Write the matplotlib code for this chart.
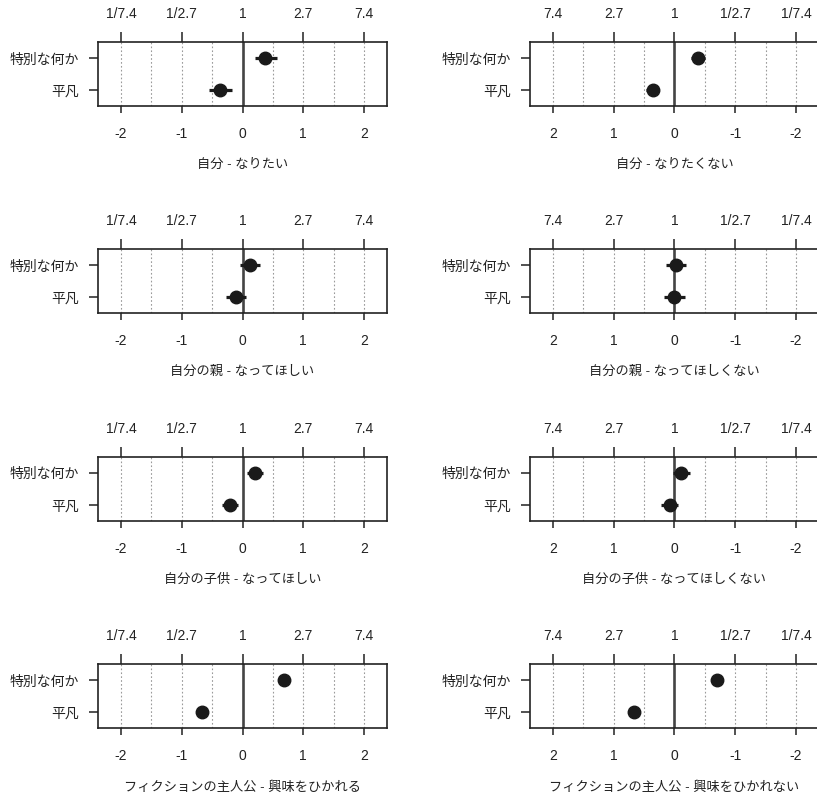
import matplotlib
matplotlib.use("Agg")
import matplotlib.pyplot as plt

plt.rcParams['font.family'] = ['Liberation Sans', 'Noto Sans CJK JP', 'DejaVu Sans']

# パネルのタイトル (左列: 正の向き, 右列: 反転軸)
titles = ['自分 - なりたい', '自分 - なりたくない',
          '自分の親 - なってほしい', '自分の親 - なってほしくない',
          '自分の子供 - なってほしい', '自分の子供 - なってほしくない',
          'フィクションの主人公 - 興味をひかれる', 'フィクションの主人公 - 興味をひかれない']
categories = ['平凡', '特別な何か']

# 推定値と区間 (対数オッズ)
special_mean = [0.37, -0.38, 0.12, -0.03, 0.20, -0.10, 0.68, -0.70]
special_lo = [0.20, -0.50, -0.045, -0.19, 0.07, -0.25, 0.60, -0.77]
special_hi = [0.57, -0.27, 0.29, 0.14, 0.34, 0.03, 0.76, -0.63]
plain_mean = [-0.375, 0.36, -0.115, 0.01, -0.20, 0.08, -0.67, 0.67]
plain_lo = [-0.56, 0.25, -0.27, -0.17, -0.33, -0.06, -0.75, 0.60]
plain_hi = [-0.18, 0.47, 0.05, 0.17, -0.07, 0.22, -0.59, 0.74]

bottom_ticks = [-2, -1, 0, 1, 2]
top_labels = ['1/7.4', '1/2.7', '1', '2.7', '7.4']
grid_x = [-2, -1.5, -1, -0.5, 0.5, 1, 1.5, 2]

fig = plt.figure(figsize=(8.17, 7.95), dpi=100)

lefts = [0.12, 0.6487]
bottoms = [0.8667, 0.6063, 0.3447, 0.0843]
w, h = 0.3537, 0.0805

for i, title in enumerate(titles):
    row, col = i // 2, i % 2
    ax = fig.add_axes([lefts[col], bottoms[row], w, h])
    for gx in grid_x:
        ax.axvline(gx, color='#9a9a9a', lw=0.8, ls=(0, (1.5, 2)), zorder=1)
    ax.axvline(0, color='#444444', lw=1.9, zorder=2)

    means = [plain_mean[i], special_mean[i]]
    los = [plain_lo[i], special_lo[i]]
    his = [plain_hi[i], special_hi[i]]
    for y, (m, lo, hi) in enumerate(zip(means, los, his), start=1):
        ax.plot([lo, hi], [y, y], color='#1a1a1a', lw=2.3, solid_capstyle='butt', zorder=3)
        ax.plot(m, y, 'o', color='#1a1a1a', ms=9, zorder=4)

    if col == 0:
        ax.set_xlim(-2.38, 2.38)
    else:
        ax.set_xlim(2.38, -2.38)
    ax.set_ylim(0.5, 2.5)

    ax.set_xticks(bottom_ticks)
    ax.set_xticklabels([str(t) for t in bottom_ticks], fontsize=10)
    ax.tick_params(axis='x', bottom=True, length=5, width=1.1, pad=10, colors='#222222')

    ax.set_yticks([1, 2])
    ax.set_yticklabels(categories, fontsize=10)
    ax.tick_params(axis='y', length=6.5, width=1.1, pad=7, colors='#222222')

    sec = ax.secondary_xaxis('top')
    sec.set_xticks(bottom_ticks)
    sec.set_xticklabels(top_labels, fontsize=10)
    sec.tick_params(length=7, width=1.1, pad=8, colors='#222222')
    sec.spines['top'].set_visible(False)

    for sp in ax.spines.values():
        sp.set_linewidth(1.2)
        sp.set_color('#222222')

    ax.set_xlabel(title, fontsize=9.5, labelpad=13, color='#222222')

fig.savefig('out.png', dpi=100)
